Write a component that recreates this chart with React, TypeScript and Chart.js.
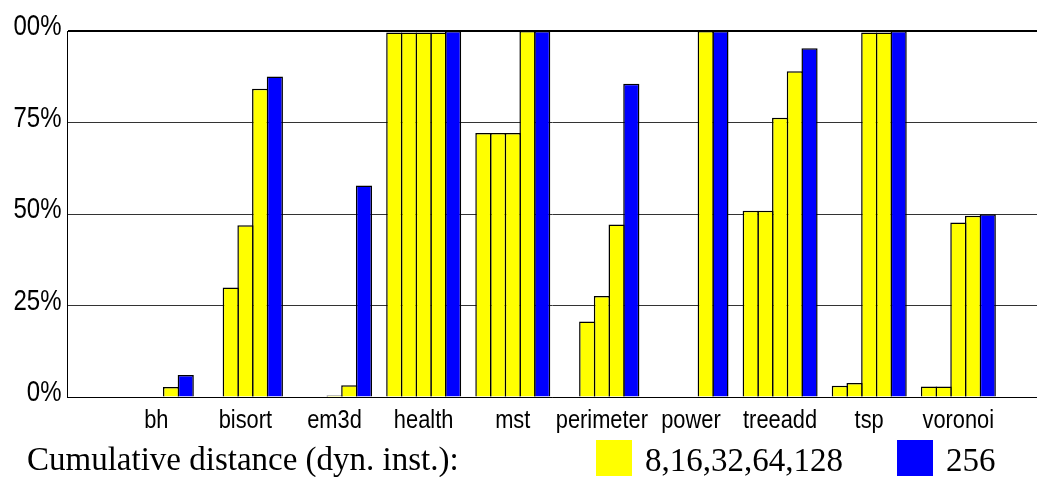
import React, { useEffect, useRef } from "react";
import { Chart, registerables } from "chart.js";

Chart.register(...registerables);

// ---- data ----
const categories = ["bh", "bisort", "em3d", "health", "mst", "perimeter", "power", "treeadd", "tsp", "voronoi"];
const distances = ["8", "16", "32", "64", "128", "256"];

const dist8 = [0, 0, 0, 0, 0, 0, 0, 0, 0, 0];
const dist16 = [0, 0, 0, 99.6, 72.1, 0, 0, 50.9, 3.1, 2.9];
const dist32 = [0, 29.9, 0, 99.6, 72.1, 20.6, 0, 50.9, 3.8, 2.9];
const dist64 = [0, 46.9, 0.4, 99.6, 72.1, 27.6, 0, 76.3, 99.6, 47.7];
const dist128 = [2.7, 84.2, 3.2, 99.6, 100, 47.1, 100, 89.0, 99.6, 49.5];
const dist256 = [6.0, 87.6, 57.8, 100, 100, 85.6, 100, 95.3, 100, 49.9];

const seriesValues = [dist8, dist16, dist32, dist64, dist128, dist256];

const yTickValues = [0, 25, 50, 75, 100];
const yTickLabels = ["0%", "25%", "50%", "75%", "100%"];

const legendTitle = "Cumulative distance (dyn. inst.):";

const YELLOW = "#ffff00";
const BLUE = "#0000ff";
const seriesColors = [YELLOW, YELLOW, YELLOW, YELLOW, YELLOW, BLUE];

const legendGroups = [
  { label: distances.slice(0, 5).join(","), color: YELLOW },
  { label: distances[5], color: BLUE },
];

const SANS = '"Liberation Sans", Arial, sans-serif';
const SERIF = '"Liberation Serif", "Times New Roman", serif';

function drawNarrow(ctx: CanvasRenderingContext2D, text: string, x: number, y: number, align: CanvasTextAlign, squeeze: number) {
  ctx.save();
  ctx.translate(x, y);
  ctx.scale(squeeze, 1);
  ctx.textAlign = align;
  ctx.textBaseline = "alphabetic";
  ctx.fillText(text, 0, 0);
  ctx.restore();
}

// Tick labels in a condensed sans (the reference uses a narrow Helvetica)
const narrowTickPlugin = {
  id: "narrowTicks",
  afterDraw(chart: any) {
    const ctx = chart.ctx as CanvasRenderingContext2D;
    const xs = chart.scales.x;
    const ys = chart.scales.y;
    ctx.save();
    ctx.fillStyle = "#000";
    ctx.font = `26px ${SANS}`;
    categories.forEach((c, i) => {
      drawNarrow(ctx, c, xs.getPixelForValue(i) + 7.3, xs.top + 31.3, "center", 0.84);
    });
    ctx.font = `30px ${SANS}`;
    yTickValues.forEach((v, i) => {
      drawNarrow(ctx, yTickLabels[i], ys.right - 5.5, ys.getPixelForValue(v) + 4.2, "right", 0.8);
    });
    ctx.restore();
  },
};

// The reference figure is cropped on the left, cutting off the "1" of "100%"
const clipPlugin = {
  id: "leftClip",
  beforeDraw(chart: any) {
    const ctx = chart.ctx;
    ctx.save();
    ctx.beginPath();
    ctx.rect(13.5, 0, chart.width, 50);
    ctx.rect(0, 50, chart.width, chart.height);
    ctx.clip();
  },
  afterDraw(chart: any) {
    chart.ctx.restore();
  },
};

const legendX = [596, 897];

const legendPlugin = {
  id: "bottomLegend",
  afterDraw(chart: any) {
    const ctx = chart.ctx;
    ctx.save();
    ctx.font = `33px ${SERIF}`;
    ctx.fillStyle = "#000";
    ctx.textBaseline = "alphabetic";
    ctx.textAlign = "left";
    ctx.fillText(legendTitle, 27, 470);
    legendGroups.forEach((g, i) => {
      const x = legendX[i];
      ctx.fillStyle = g.color;
      ctx.fillRect(x, 440, 36, 36);
      ctx.fillStyle = "#000";
      ctx.fillText(g.label, x + 49, 471);
    });
    ctx.restore();
  },
};

export default function App() {
  const canvasRef = useRef<HTMLCanvasElement | null>(null);

  useEffect(() => {
    if (!canvasRef.current) return;
    const chart = new Chart(canvasRef.current, {
      type: "bar",
      data: {
        datasets: seriesValues.map((vals, s) => ({
          label: distances[s],
          data: categories.map((_, i) => ({ x: i, y: vals[i] })),
          backgroundColor: seriesColors[s],
          borderColor: "#000",
          borderWidth: 1.5,
          borderSkipped: "bottom",
          categoryPercentage: 0.99,
          barPercentage: 1.1,
        })),
      },
      options: {
        responsive: false,
        animation: false,
        events: [],
        layout: { padding: { top: 31, left: 0, right: 0, bottom: 0 } },
        plugins: {
          legend: { display: false },
          tooltip: { enabled: false },
        },
        scales: {
          x: {
            type: "linear",
            offset: false,
            min: -0.92,
            max: 9.965,
            afterBuildTicks: (scale: any) => {
              scale.ticks = categories.map((_, i) => ({ value: i }));
            },
            afterFit: (scale: any) => {
              scale.height = 80;
            },
            grid: { display: false, drawTicks: false },
            border: { display: true, color: "#000", width: 1 },
            ticks: { display: false },
          },
          y: {
            min: 0,
            max: 100,
            afterBuildTicks: (scale: any) => {
              scale.ticks = yTickValues.map((v) => ({ value: v }));
            },
            afterFit: (scale: any) => {
              scale.width = 67;
            },
            grid: {
              drawTicks: false,
              color: (ctx: any) => (ctx.tick && ctx.tick.value === 100 ? "#000" : "#333"),
              lineWidth: (ctx: any) => (ctx.tick && ctx.tick.value === 100 ? 2 : 1),
            },
            border: { display: true, color: "#000", width: 1 },
            ticks: { display: false },
          },
        },
      },
      plugins: [narrowTickPlugin, clipPlugin, legendPlugin],
    } as any);
    return () => chart.destroy();
  }, []);

  return (
    <div style={{ position: "absolute", left: 0, top: 0, width: 1037, height: 477, background: "#fff" }}>
      <canvas ref={canvasRef} width={1037} height={477} style={{ display: "block" }} />
    </div>
  );
}
